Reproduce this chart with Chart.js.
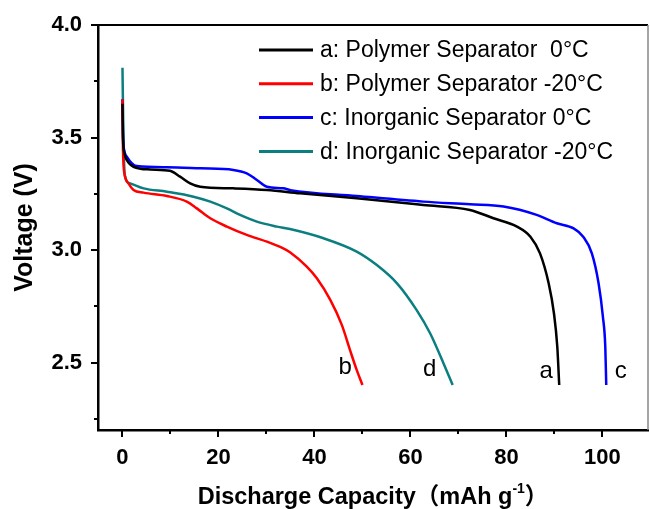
<!DOCTYPE html>
<html>
<head>
<meta charset="utf-8">
<script src="https://cdn.jsdelivr.net/npm/chart.js@4.4.0/dist/chart.umd.min.js"></script>
<style>
  html, body { margin: 0; padding: 0; background: #fff; }
  #wrap { width: 650px; height: 509px; }
</style>
</head>
<body>
<div id="wrap"><canvas id="chart" width="650" height="509"></canvas></div>
<script>
// discharge curves
const capA = [0, 0.1, 0.4, 0.9, 2.3, 5.8, 9.9, 12, 14.1, 16.2, 23.1, 30.1, 37, 48.8, 62.7, 72.4, 77.3, 82.2, 85, 87, 88.8, 89.9, 90.6, 91];
const voltA = [3.65, 3.5, 3.43, 3.4, 3.37, 3.358, 3.352, 3.326, 3.296, 3.281, 3.274, 3.267, 3.252, 3.23, 3.2, 3.178, 3.141, 3.104, 3.059, 2.985, 2.852, 2.719, 2.57, 2.4];

const capB = [0, 0.1, 0.5, 1.25, 2.3, 4.4, 9.25, 13.4, 15.5, 18.3, 21.75, 25.9, 30.1, 33.5, 34.9, 38.4, 40.5, 43.3, 45.7, 47.4, 48.8, 50];
const voltB = [3.67, 3.45, 3.33, 3.296, 3.267, 3.255, 3.24, 3.215, 3.185, 3.141, 3.104, 3.067, 3.037, 3.007, 2.99, 2.926, 2.874, 2.778, 2.667, 2.556, 2.467, 2.4];

const capC = [0, 0.1, 0.4, 0.9, 3, 9.25, 16.2, 23.1, 25.9, 28, 30.1, 33.5, 35, 48.8, 62.7, 72.4, 79.4, 86.3, 90.5, 94, 96, 97.8, 99.2, 100.1, 100.6, 100.8];
const voltC = [3.67, 3.52, 3.44, 3.415, 3.373, 3.368, 3.363, 3.356, 3.341, 3.311, 3.281, 3.274, 3.266, 3.24, 3.215, 3.203, 3.193, 3.156, 3.119, 3.096, 3.059, 2.985, 2.852, 2.704, 2.57, 2.4];

const capD = [0, 0.2, 0.5, 1.6, 4.4, 9.25, 14.8, 18.3, 21.75, 24.5, 28, 32.2, 34.9, 41.9, 48.8, 53, 57.2, 61.3, 64.1, 66.9, 68.8];
const voltD = [3.81, 3.5, 3.33, 3.296, 3.274, 3.259, 3.237, 3.215, 3.185, 3.156, 3.126, 3.104, 3.093, 3.052, 2.993, 2.933, 2.852, 2.733, 2.63, 2.496, 2.4];

const seriesNames = [
  "a: Polymer Separator  0\u00B0C",
  "b: Polymer Separator -20\u00B0C",
  "c: Inorganic Separator 0\u00B0C",
  "d: Inorganic Separator -20\u00B0C"
];
const seriesColors = ["#000000", "#ff0000", "#0000ff", "#0b7f7f"];

// letters next to the curve ends
const curveLetters = ["a", "b", "c", "d"];
const letterCap = [88.3, 46.4, 103.8, 64.0];
const letterVolt = [2.46, 2.48, 2.46, 2.47];

// axis ticks
const xTickValues = [0, 10, 20, 30, 40, 50, 60, 70, 80, 90, 100];
const xTickLabels = ["0", "", "20", "", "40", "", "60", "", "80", "", "100"];
const yTickValues = [2.25, 2.5, 2.75, 3.0, 3.25, 3.5, 3.75, 4.0];
const yTickLabels = ["", "2.5", "", "3.0", "", "3.5", "", "4.0"];

Chart.defaults.font.family = '"Liberation Sans", Arial, sans-serif';
Chart.defaults.color = "#000";

const toPoints = (xs, ys) => xs.map((x, i) => ({ x: x, y: ys[i] }));
const allCaps = [capA, capB, capC, capD];
const allVolts = [voltA, voltB, voltC, voltD];

const datasets = seriesNames.map((name, i) => ({
  label: name,
  data: toPoints(allCaps[i], allVolts[i]),
  borderColor: seriesColors[i],
  backgroundColor: seriesColors[i],
  borderWidth: 2.5,
  pointRadius: 0,
  cubicInterpolationMode: "monotone",
  fill: false,
}));

// outward tick marks, long for labelled ticks and short for the rest
const tickMarks = {
  id: "tickMarks",
  afterDraw(chart) {
    const ctx = chart.ctx;
    const xs = chart.scales.x;
    const ys = chart.scales.y;
    ctx.save();
    ctx.strokeStyle = "#000";
    ctx.lineWidth = 2;
    xTickValues.forEach((v, i) => {
      const px = Math.round(xs.getPixelForValue(v));
      const len = xTickLabels[i] ? 7 : 4;
      ctx.beginPath();
      ctx.moveTo(px, xs.top);
      ctx.lineTo(px, xs.top + len);
      ctx.stroke();
    });
    yTickValues.forEach((v, i) => {
      const py = Math.round(ys.getPixelForValue(v));
      const len = yTickLabels[i] ? 7 : 4;
      ctx.beginPath();
      ctx.moveTo(ys.right, py);
      ctx.lineTo(ys.right - len, py);
      ctx.stroke();
    });
    ctx.restore();
  }
};

// frame, legend, curve letters and axis titles
const decorations = {
  id: "decorations",
  afterDraw(chart) {
    const ctx = chart.ctx;
    const area = chart.chartArea;
    const xs = chart.scales.x;
    const ys = chart.scales.y;
    ctx.save();

    // top and right frame
    ctx.strokeStyle = "#000";
    ctx.lineWidth = 2;
    ctx.beginPath();
    ctx.moveTo(area.left, area.top);
    ctx.lineTo(area.right, area.top);
    ctx.stroke();
    ctx.strokeStyle = "#888";
    ctx.lineWidth = 1.5;
    ctx.beginPath();
    ctx.moveTo(area.right, area.top);
    ctx.lineTo(area.right, area.bottom);
    ctx.stroke();

    // legend
    ctx.font = '23px "Liberation Sans", Arial, sans-serif';
    ctx.textBaseline = "middle";
    ctx.textAlign = "left";
    chart.data.datasets.forEach((ds, i) => {
      const y = 50 + i * 33.8;
      ctx.strokeStyle = ds.borderColor;
      ctx.lineWidth = 3;
      ctx.beginPath();
      ctx.moveTo(259, y);
      ctx.lineTo(313, y);
      ctx.stroke();
      ctx.fillStyle = "#000";
      ctx.fillText(ds.label, 320, y + 1);
    });

    // letters at curve ends
    ctx.font = '24px "Liberation Sans", Arial, sans-serif';
    ctx.textAlign = "center";
    curveLetters.forEach((t, i) => {
      ctx.fillText(t, xs.getPixelForValue(letterCap[i]), ys.getPixelForValue(letterVolt[i]));
    });

    // x title with superscript
    ctx.textBaseline = "alphabetic";
    ctx.textAlign = "left";
    const bold = '"Liberation Sans", Arial, "Noto Sans CJK SC", sans-serif';
    const partA = "Discharge Capacity\uFF08mAh g";
    const partSup = "-1";
    const partB = "\uFF09";
    ctx.font = "bold 23.5px " + bold;
    const wA = ctx.measureText(partA).width;
    const wB = ctx.measureText(partB).width;
    ctx.font = "bold 14px " + bold;
    const wS = ctx.measureText(partSup).width;
    const total = wA + wS + wB;
    let x0 = (area.left + area.right) / 2 - total / 2;
    const base = 504;
    ctx.font = "bold 23.5px " + bold;
    ctx.fillText(partA, x0, base);
    ctx.font = "bold 14px " + bold;
    ctx.fillText(partSup, x0 + wA, base - 11);
    ctx.font = "bold 23.5px " + bold;
    ctx.fillText(partB, x0 + wA + wS, base);

    // y title
    ctx.translate(32, (area.top + area.bottom) / 2);
    ctx.rotate(-Math.PI / 2);
    ctx.textAlign = "center";
    ctx.font = "bold 25px " + bold;
    ctx.fillText("Voltage (V)", 0, 0);

    ctx.restore();
  }
};

const ctx = document.getElementById("chart").getContext("2d");

new Chart(ctx, {
  type: "line",
  data: { datasets: datasets },
  options: {
    responsive: false,
    animation: false,
    devicePixelRatio: 1,
    layout: { padding: { top: 25, right: 2, left: 0, bottom: 0 } },
    plugins: {
      legend: { display: false },
      tooltip: { enabled: false },
    },
    scales: {
      x: {
        type: "linear",
        min: -5.1,
        max: 109.5,
        afterBuildTicks: (scale) => {
          scale.ticks = xTickValues.map((v) => ({ value: v }));
        },
        afterFit: (scale) => {
          scale.height = 79;
        },
        ticks: {
          autoSkip: false,
          maxRotation: 0,
          padding: 8,
          font: { size: 22, weight: "bold" },
          callback: (value, index) => xTickLabels[index],
        },
        grid: {
          drawOnChartArea: false,
          drawTicks: true,
          tickLength: 7,
          color: "rgba(0,0,0,0)",
        },
        border: { display: true, color: "#000", width: 2.5 },
      },
      y: {
        type: "linear",
        min: 2.2,
        max: 4.0,
        afterBuildTicks: (scale) => {
          scale.ticks = yTickValues.map((v) => ({ value: v }));
        },
        afterFit: (scale) => {
          scale.width = 98;
        },
        ticks: {
          autoSkip: false,
          padding: 9,
          font: { size: 22, weight: "bold" },
          callback: (value, index) => yTickLabels[index],
        },
        grid: {
          drawOnChartArea: false,
          drawTicks: true,
          tickLength: 7,
          color: "rgba(0,0,0,0)",
        },
        border: { display: true, color: "#000", width: 2.5 },
      },
    },
  },
  plugins: [tickMarks, decorations],
});
</script>
</body>
</html>
